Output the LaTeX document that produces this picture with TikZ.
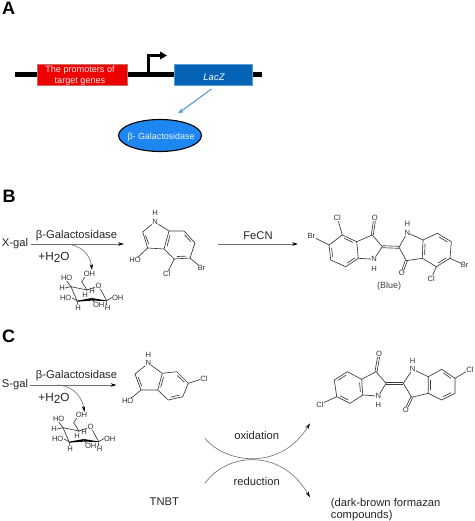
\documentclass[tikz,border=0pt]{standalone}
\usepackage{fontspec}
\setmainfont{Liberation Sans}
\usetikzlibrary{calc,arrows.meta,shapes.geometric}
\definecolor{barblue}{HTML}{0563B5}
\definecolor{ellblue}{HTML}{1E86F0}
\definecolor{linkblue}{HTML}{5B9BD5}
\definecolor{rxgray}{HTML}{6E6E6E}
\definecolor{bondc}{HTML}{3A3A3A}
\newcommand{\dbl}[3]{\draw[bondline] ($(#1)!.14!(#2)!2.4pt!(#3)$) -- ($(#2)!.14!(#1)!2.4pt!(#3)$);}
\newcommand{\dbo}[2]{\draw[bondline] ($(#1)!1pt!90:(#2)$) -- ($(#2)!1pt!-90:(#1)$); \draw[bondline] ($(#1)!1pt!-90:(#2)$) -- ($(#2)!1pt!90:(#1)$);}
\newcommand{\hhto}{+H\raisebox{-2.5pt}{2}O}
\begin{document}
\begin{tikzpicture}[x=1pt,y=-1pt,
  bondline/.style={draw=bondc,line width=.65pt},
  atom/.style={font=\fontsize{7.6}{8}\selectfont,text=black!80,fill=white,inner sep=.4pt},
  panel/.style={font=\fontsize{18}{18}\selectfont\bfseries,text=black,inner sep=0},
  rxtext/.style={font=\fontsize{11.2}{12}\selectfont,text=black!85,inner sep=0},
  capt/.style={font=\fontsize{9.1}{11}\selectfont,text=white,inner sep=0,align=center},
  rxarrow/.style={draw=rxgray,line width=.8pt,-{Stealth[length=6pt,width=3.6pt,black]}},
  thinarrow/.style={draw=rxgray,line width=.6pt,-{Stealth[length=6pt,width=3.4pt,black]}}]
\useasboundingbox (0,0) rectangle (474,521);
\fill[white] (0,0) rectangle (474,521);

% ---------- Panel A
\node[panel] (pa) at (8.5,8) {A};
\coordinate (dnaL) at (15,74.5);
\coordinate (dnaR) at (262,74.5);
\draw[line width=5pt,black] (dnaL) -- (dnaR);
\node[draw=red!70!black!60,line width=.4pt,fill=red!93!black,minimum width=90pt,minimum height=21pt,inner sep=0] (prom) at (82.5,75) {};
\node[capt,text=white!92!red] (promt) at (80,75.8) {The promoters of\\[.6pt]target genes};
\node[draw=linkblue,line width=.4pt,fill=barblue,minimum width=77.5pt,minimum height=21pt,inner sep=0] (lacz) at (213.2,75) {};
\node[capt,font=\fontsize{9.5}{11}\selectfont\itshape] (laczt) at (214,77) {LacZ};
\coordinate (tss0) at (148.5,74);
\coordinate (tss1) at (148.5,55.5);
\coordinate (tss2) at (167,55.5);
\draw[line width=2.4pt,black,-{Triangle[length=7pt,width=7.5pt]}] (tss0) -- (tss1) -- (tss2);
\node[ellipse,draw=black,line width=1.1pt,fill=ellblue,minimum width=83pt,minimum height=32pt,inner sep=0] (gal) at (160,135.5) {};
\node[capt,font=\fontsize{8.9}{11}\selectfont,text=white!90!ellblue] (galt) at (161,137) {β- Galactosidase};
\coordinate (ga0) at (211.5,89);
\coordinate (ga1) at (178,113.5);
\draw[draw=linkblue,line width=1.1pt,-{Stealth[length=6pt,width=5pt]}] (ga0) -- (ga1);

% ---------- Panel B
\node[panel] (pb) at (9,196) {B};
\node[rxtext] (xgal) at (15,244) {X-gal};
\node[rxtext] (bgalb) at (76.5,236) {β-Galactosidase};
\node[rxtext,font=\fontsize{11.8}{12}\selectfont] (wb) at (54,257.5) {\hhto};
\coordinate (rb1) at (124,244);
\draw[rxarrow] (xgal.east)++(3,0) -- (rb1);
\coordinate (cb0) at (68,244.3);
\coordinate (cb1) at (92,270);
\draw[thinarrow] (cb0) .. controls (79,245) and (90,253) .. (cb1);
\node[rxtext] (fecn) at (258,236) {FeCN};
\coordinate (fb0) at (218,244);
\coordinate (fb1) at (298,244);
\draw[rxarrow] (fb0) -- (fb1);
\node[rxtext,font=\fontsize{9}{10}\selectfont,text=black!75] (blue) at (389,286) {(Blue)};

% indole B
\foreach \n/\p in {N/{155,222},C2/{142.7,232},C3/{147.7,248},C3a/{164,249},C7a/{169,231},C7/{184,231},C6/{195,243},C5/{190,258},C4/{174.3,259},OHb/{135,260},Clb/{166.7,274},Brb/{201.7,268}}{\coordinate (ib\n) at (\p);}
\draw[bondline] (ibN)--(ibC2)--(ibC3)--(ibC3a)--(ibC7a)--(ibN);
\draw[bondline] (ibC7a)--(ibC7)--(ibC6)--(ibC5)--(ibC4)--(ibC3a);
\draw[bondline] (ibC3)--(ibOHb) (ibC4)--(ibClb) (ibC5)--(ibBrb);
\coordinate (ibP) at (153,240); \coordinate (ibB) at (180,245);
\dbl{ibC2}{ibC3}{ibP} \dbl{ibC3a}{ibC7a}{ibB} \dbl{ibC7}{ibC6}{ibB} \dbl{ibC5}{ibC4}{ibB}
\node[atom] (ibNt) at (ibN) {N};
\node[atom] (ibHt) at (155,213) {H};
\node[atom] (ibOt) at (ibOHb) {HO};
\node[atom] (ibCt) at (ibClb) {Cl};
\node[atom] (ibBt) at (ibBrb) {Br};

% dimer B
\foreach \n/\p in {a4/{342.3,235},a5/{329,245},a6/{330.7,260},a7/{345.7,266.7},a7a/{358.3,258.3},a3a/{356.7,241.7},a3/{372.3,235},aO/{374.7,218.3},a2/{382.3,246.7},aN/{374,259.3},aCl/{337.3,217.7},aBr/{311.3,236},
 b2/{399,247.3},bN/{407.3,232.7},b7a/{423,240},b3a/{422.3,258.3},b3/{406.3,260.7},bO/{401.7,273.3},b7/{437.3,233.3},b6/{451.3,241.7},b5/{450,258.3},b4/{436.3,266.7},bBr/{464.7,265},bCl/{431.3,278.3}}{\coordinate (db\n) at (\p);}
\draw[bondline] (dba4)--(dba5)--(dba6)--(dba7)--(dba7a)--(dba3a)--(dba4);
\draw[bondline] (dba3a)--(dba3)--(dba2)--(dbaN)--(dba7a);
\draw[bondline] (dbb7a)--(dbb7)--(dbb6)--(dbb5)--(dbb4)--(dbb3a)--(dbb7a);
\draw[bondline] (dbb7a)--(dbbN)--(dbb2)--(dbb3)--(dbb3a);
\draw[bondline] (dba4)--(dbaCl) (dba5)--(dbaBr) (dbb5)--(dbbBr) (dbb4)--(dbbCl);
\coordinate (dbcA) at (344,250); \coordinate (dbcB) at (437,250);
\dbl{dba4}{dba3a}{dbcA} \dbl{dba5}{dba6}{dbcA} \dbl{dba7}{dba7a}{dbcA}
\dbl{dbb3a}{dbb7a}{dbcB} \dbl{dbb7}{dbb6}{dbcB} \dbl{dbb5}{dbb4}{dbcB}
\dbo{dba3}{dbaO} \dbo{dbb3}{dbbO} \dbo{dba2}{dbb2}
\node[atom] (dbaOt) at (dbaO) {O};
\node[atom] (dbbOt) at (dbbO) {O};
\node[atom] (dbaNt) at (dbaN) {N};
\node[atom] (dbbNt) at (dbbN) {N};
\node[atom] (dbaHt) at (374,268.5) {H};
\node[atom] (dbbHt) at (407.3,224) {H};
\node[atom] (dbaClt) at (dbaCl) {Cl};
\node[atom] (dbaBrt) at (dbaBr) {Br};
\node[atom] (dbbBrt) at (dbbBr) {Br};
\node[atom] (dbbClt) at (dbbCl) {Cl};

% ---------- sugars
\foreach \sn/\dx/\dy in {sb/0/0,sc/-8/141}{
 \begin{scope}[shift={(\dx,\dy)}]
  \coordinate (\sn4) at (71,286.7);
  \coordinate (\sn3) at (77,300.7);
  \coordinate (\sn2) at (91.7,299.3);
  \coordinate (\sn1) at (106.7,300.7);
  \coordinate (\sn O) at (98.7,286);
  \coordinate (\sn5) at (87,290);
  \coordinate (\sn6) at (81.7,281.7);
  \coordinate (\sn M) at (92,290);
  \draw[bondline] (\sn4)--(\sn3);
  \draw[bondline] (\sn4)--(\sn5)--(\sn O)--(\sn1);
  \draw[bondline] (\sn5)--(\sn6)--(85.5,276);
  \fill[black] (\sn3) -- ($(\sn3)+(.2,1)$) -- ($(\sn2)+(0,1.3)$) -- ($(\sn2)+(0,-1.3)$) -- cycle;
  \fill[black] (\sn2) ++(0,-1.3) -- ($(\sn1)+(0,-.2)$) -- ($(\sn1)+(0,.3)$) -- ($(\sn2)+(0,1.3)$) -- cycle;
  \draw[bondline] (\sn4)--(66,280) (\sn4)--(65,288) (\sn3)--(71,297.5) (\sn3)--(78,305) (\sn1)--(112,297.5) (\sn1)--(106.5,305) (\sn2)--(95,303) (\sn5)--(86,292);
  \node[atom] (\sn t1) at (89.5,274) {OH};
  \node[atom] (\sn t2) at (66.7,278) {HO};
  \node[atom] (\sn t3) at (62,288) {H};
  \node[atom] (\sn t4) at (98.7,286) {O};
  \node[atom] (\sn t5) at (85,294.5) {H};
  \node[atom,fill=none] (\sn t6) at (92,290.5) {H};
  \node[atom] (\sn t7) at (65.7,297.5) {HO};
  \node[atom] (\sn t8) at (117.7,297.5) {OH};
  \node[atom] (\sn t9) at (78,308) {H};
  \node[atom] (\sn t10) at (98.7,305) {OH};
  \node[atom,fill=none] (\sn t11) at (107.7,308) {H};
 \end{scope}
}

% ---------- Panel C
\node[panel] (pc) at (8.5,336) {C};
\node[rxtext] (sgal) at (15,385) {S-gal};
\node[rxtext] (bgalc) at (76.5,376) {β-Galactosidase};
\node[rxtext,font=\fontsize{11.8}{12}\selectfont] (wc) at (54,398.5) {\hhto};
\coordinate (rc1) at (116.5,385);
\draw[rxarrow] (sgal.east)++(2,0) -- (rc1);
\coordinate (cc0) at (57,385);
\coordinate (cc1) at (84.5,412);
\draw[thinarrow] (cc0) .. controls (68,385) and (81,392) .. (cc1);

% indole C
\foreach \n/\p in {N/{148.3,363.3},C2/{135,374},C3/{141,390},C3a/{157.7,390},C7a/{162.3,373.3},C7/{176.7,371.7},C6/{188.3,383.3},C5/{182.7,396.7},C4/{168.3,400},OHb/{127.7,401},Clb/{204,378.3}}{\coordinate (ic\n) at (\p);}
\draw[bondline] (icN)--(icC2)--(icC3)--(icC3a)--(icC7a)--(icN);
\draw[bondline] (icC7a)--(icC7)--(icC6)--(icC5)--(icC4)--(icC3a);
\draw[bondline] (icC3)--(icOHb) (icC6)--(icClb);
\coordinate (icP) at (147,379); \coordinate (icB) at (173,385);
\dbl{icC2}{icC3}{icP} \dbl{icC3a}{icC7a}{icB} \dbl{icC7}{icC6}{icB} \dbl{icC5}{icC4}{icB}
\node[atom] (icNt) at (icN) {N};
\node[atom] (icHt) at (148.3,354.5) {H};
\node[atom] (icOt) at (icOHb) {HO};
\node[atom] (icCt) at (icClb) {Cl};

% dimer C
\foreach \n/\p in {a4/{347.3,371.7},a5/{334.3,380},a6/{336.7,396.7},a7/{350,403.3},a7a/{362.7,395},a3a/{361.7,379.3},a3/{376,371.7},aO/{379,354.3},a2/{386,383.3},aN/{378.3,396},aCl/{320,404.3},
 b2/{403.3,383.3},bN/{412.7,369.3},b7a/{428.3,376.7},b3a/{428.3,393.3},b3/{411.7,397.3},bO/{405.7,410},b7/{441.7,369.3},b6/{455,378.3},b5/{455,393.3},b4/{441.7,400},bCl/{470,369.3}}{\coordinate (dc\n) at (\p);}
\draw[bondline] (dca4)--(dca5)--(dca6)--(dca7)--(dca7a)--(dca3a)--(dca4);
\draw[bondline] (dca3a)--(dca3)--(dca2)--(dcaN)--(dca7a);
\draw[bondline] (dcb7a)--(dcb7)--(dcb6)--(dcb5)--(dcb4)--(dcb3a)--(dcb7a);
\draw[bondline] (dcb7a)--(dcbN)--(dcb2)--(dcb3)--(dcb3a);
\draw[bondline] (dca6)--(dcaCl) (dcb6)--(dcbCl);
\coordinate (dccA) at (349,387); \coordinate (dccB) at (442,385);
\dbl{dca4}{dca5}{dccA} \dbl{dca6}{dca7}{dccA} \dbl{dca7a}{dca3a}{dccA}
\dbl{dcb3a}{dcb7a}{dccB} \dbl{dcb7}{dcb6}{dccB} \dbl{dcb5}{dcb4}{dccB}
\dbo{dca3}{dcaO} \dbo{dcb3}{dcbO} \dbo{dca2}{dcb2}
\node[atom] (dcaOt) at (dcaO) {O};
\node[atom] (dcbOt) at (dcbO) {O};
\node[atom] (dcaNt) at (dcaN) {N};
\node[atom] (dcbNt) at (dcbN) {N};
\node[atom] (dcaHt) at (378.3,405) {H};
\node[atom] (dcbHt) at (412.7,360.7) {H};
\node[atom] (dcaClt) at (dcaCl) {Cl};
\node[atom] (dcbClt) at (dcbCl) {Cl};

% redox arcs
\coordinate (ox0) at (205,438.3);
\coordinate (ox1) at (310,423.3);
\coordinate (re0) at (205,483.3);
\coordinate (re1) at (310,497.3);
\draw[thinarrow] (ox0) .. controls (225,463) and (280,472) .. (ox1);
\draw[thinarrow] (re0) .. controls (225,454) and (280,446) .. (re1);
\node[rxtext] (oxt) at (256.7,435.7) {oxidation};
\node[rxtext] (ret) at (256.7,481.3) {reduction};
\node[rxtext] (tnbt) at (164.3,501.7) {TNBT};
\node[rxtext,anchor=west] (dbf) at (330.7,504) {(dark-brown formazan};
\node[rxtext,anchor=west] (dbg) at (330.7,516) {compounds)};
\end{tikzpicture}
\end{document}
